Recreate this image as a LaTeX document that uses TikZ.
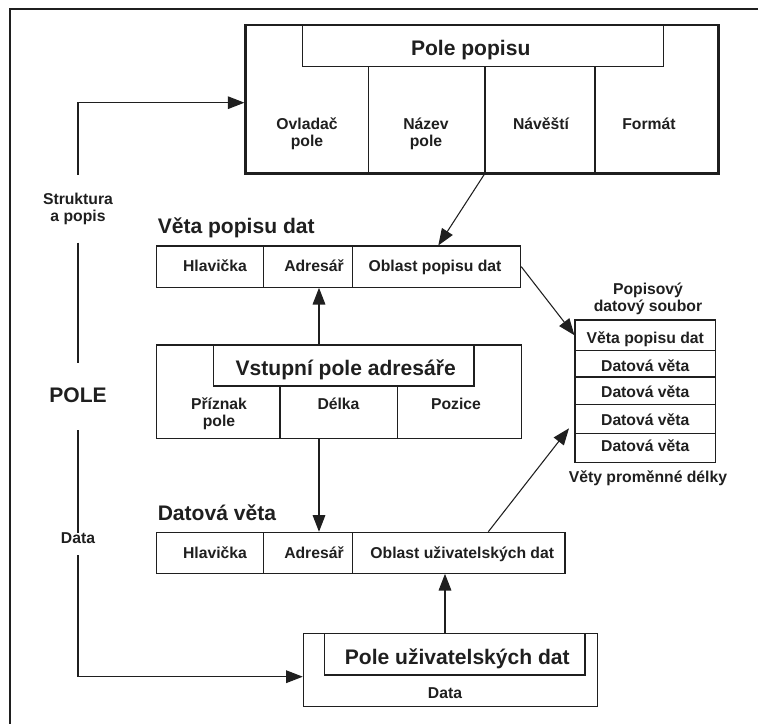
\documentclass[tikz,border=0pt]{standalone}
\usepackage{fontspec}
\setmainfont{Liberation Sans}
\usetikzlibrary{arrows.meta,fit}
\begin{document}
\begin{tikzpicture}[x=0.75pt,y=-0.75pt,
  ln/.style={draw=black!88, line width=0.8pt},
  box/.style={ln, inner sep=0pt},
  big/.style={font=\fontsize{15.8}{19}\selectfont\bfseries, text=black!88, anchor=base, inner sep=0pt},
  sm/.style={font=\fontsize{11.8}{12.6}\selectfont\bfseries, text=black!88, anchor=base, inner sep=0pt, align=center},
  arr/.style={ln, -{Triangle[length=12.5pt,width=9.5pt]}},
]
\useasboundingbox (0,0) rectangle (758,724);
% outer frame
\draw[draw=black!88, line width=2.2pt] (10,730) -- (10,9) -- (765,9);

% ---------- top box: Pole popisu
\node[box, fit={(245.7,25) (718.3,173.3)}, line width=1.9pt] (pp) {};
\node[box, fit={(302.3,25) (663.3,66.7)}] (ppt) {};
\node[big] (ppl) at (470.7,56) {Pole popisu};
\draw[ln] (368.3,66.7) -- (368.3,173.3);
\draw[ln] (485,66.7) -- (485,173.3);
\draw[ln] (595,66.7) -- (595,173.3);
\node[sm] (c1) at (307,146.7) {Ovladač\\pole};
\node[sm] (c2) at (426,146.7) {Název\\pole};
\node[sm] (c3) at (541,130) {Návěští};
\node[sm] (c4) at (649,130) {Formát};
\coordinate (ppout) at (485,173.3);

% ---------- Věta popisu dat
\node[big, anchor=base west] (vpdt) at (157.5,233.3) {Věta popisu dat};
\node[box, fit={(156.7,246) (520.7,287.3)}] (vpd) {};
\draw[ln] (263.3,246) -- (263.3,287.3);
\draw[ln] (352.7,246) -- (352.7,287.3);
\node[sm] (vh) at (215,271.7) {Hlavička};
\node[sm] (va) at (314,271.7) {Adresář};
\node[sm] (vo) at (435,271.7) {Oblast popisu dat};

% ---------- Vstupní pole adresáře
\node[box, fit={(156.7,345) (521.7,438.3)}] (vs) {};
\node[box, fit={(213.3,345) (474,386)}] (vst) {};
\node[big] (vsl) at (345.7,375) {Vstupní pole adresáře};
\draw[ln] (280,386) -- (280,438.3);
\draw[ln] (397.3,386) -- (397.3,438.3);
\node[sm] (s1) at (219,426.7) {Příznak\\pole};
\node[sm] (s2) at (338.5,409.3) {Délka};
\node[sm] (s3) at (456,409.3) {Pozice};

% ---------- Datová věta
\node[big, anchor=base west] (dvt) at (157.5,520) {Datová věta};
\node[box, fit={(156.7,532.3) (565,573.3)}] (dv) {};
\draw[ln] (263.3,532.3) -- (263.3,573.3);
\draw[ln] (352.7,532.3) -- (352.7,573.3);
\node[sm] (dh) at (215,558.3) {Hlavička};
\node[sm] (da) at (314,558.3) {Adresář};
\node[sm] (do) at (462.3,558.3) {Oblast uživatelských dat};

% ---------- Pole uživatelských dat
\node[box, fit={(303.3,633.3) (597.7,706.7)}] (pu) {};
\node[box, fit={(324.3,633.3) (585,675)}] (put) {};
\node[big] (pul) at (457.3,664) {Pole uživatelských dat};
\node[sm] (pud) at (445,698.3) {Data};

% ---------- right table
\node[sm] (tt) at (648,311.7) {Popisový\\datový soubor};
\node[box, fit={(575,320) (715.7,350.5)}] (r1) {};
\node[box, fit={(575,350.5) (715.7,377)}] (r2) {};
\node[box, fit={(575,377) (715.7,404.3)}] (r3) {};
\node[box, fit={(575,404.3) (715.7,433.3)}] (r4) {};
\node[box, fit={(575,433.3) (715.7,462.3)}] (r5) {};
\node[sm] (r1t) at (645.3,343.3) {Věta popisu dat};
\node[sm] (r2t) at (645.3,371) {Datová věta};
\node[sm] (r3t) at (645.3,397.7) {Datová věta};
\node[sm] (r4t) at (645.3,425) {Datová věta};
\node[sm] (r5t) at (645.3,451.7) {Datová věta};
\node[sm] (tb) at (648,482.7) {Věty proměnné délky};

% ---------- left labels
\node[sm, font=\fontsize{11.8}{13.2}\selectfont\bfseries] (sp) at (78,221.7) {Struktura\\a popis};
\node[big] (pole) at (78,402.7) {POLE};
\node[sm] (dl) at (78,543.3) {Data};
\coordinate (l1) at (78,175);
\coordinate (l2) at (78,242.7);
\coordinate (l3) at (78,363);
\coordinate (l4) at (78,430);
\coordinate (l5) at (78,533);
\coordinate (l6) at (78,555);
\coordinate (ctop) at (78,102.7);
\coordinate (cbot) at (78,676.7);
\coordinate (t2) at (569,428.3);

% ---------- connectors
\draw[arr] (l1) -- (ctop) -- (ctop -| pp.west);
\draw[ln] (l2) -- (l3);
\draw[ln] (l4) -- (l5);
\draw[arr] (l6) -- (cbot) -- (cbot -| pu.west);
\draw[arr] (ppout) -- (vpd.north -| 438.3,0);
\draw[arr] (vpd.east) -- (r1.west);
\draw[arr] (vs.north -| 319,0) -- (vpd.south -| 319,0);
\draw[arr] (vs.south -| 319,0) -- (dv.north -| 319,0);
\draw[arr] (dv.north -| 488.3,0) -- (t2);
\draw[arr] (pu.north -| 445,0) -- (dv.south -| 445,0);
\end{tikzpicture}
\end{document}
